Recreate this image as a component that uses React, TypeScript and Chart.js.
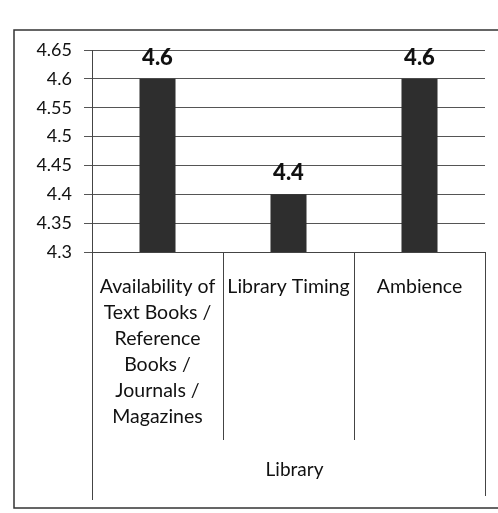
import React, { useEffect, useRef } from "react";
import { Chart, registerables } from "chart.js";

Chart.register(...registerables);

const categories: string[][] = [
  ["Availability of", "Text Books /", "Reference", "Books /", "Journals /", "Magazines"],
  ["Library Timing"],
  ["Ambience"],
];
const values: number[] = [4.6, 4.4, 4.6];
const valueLabels: string[] = ["4.6", "4.4", "4.6"];
const groupLabel = "Library";
const yTickLabels: string[] = ["4.3", "4.35", "4.4", "4.45", "4.5", "4.55", "4.6", "4.65"];
const yMin = 4.3;
const yMax = 4.65;
const yStep = 0.05;

const FONT = "Lato, 'Open Sans', sans-serif";

export default function App() {
  const ref = useRef<HTMLCanvasElement | null>(null);

  useEffect(() => {
    if (!ref.current) return;

    const framePlugin = {
      id: "frame",
      beforeDraw(chart: any) {
        const ctx = chart.ctx;
        ctx.save();
        ctx.fillStyle = "#ffffff";
        ctx.fillRect(0, 0, chart.width, chart.height);
        ctx.strokeStyle = "#333333";
        ctx.lineWidth = 1.5;
        ctx.strokeRect(14, 30, 492, 478);
        ctx.restore();
      },
    };

    const dividerPlugin = {
      id: "dividers",
      afterDraw(chart: any) {
        const ctx = chart.ctx;
        const area = chart.chartArea;
        const xs = chart.scales.x;
        ctx.save();
        ctx.strokeStyle = "#444444";
        ctx.lineWidth = 1;
        const n = categories.length;
        ctx.beginPath();
        ctx.moveTo(Math.round(area.left) + 0.5, area.bottom);
        ctx.lineTo(Math.round(area.left) + 0.5, 500);
        ctx.moveTo(Math.round(area.right) + 0.5, area.bottom);
        ctx.lineTo(Math.round(area.right) + 0.5, 496);
        for (let i = 0; i < n - 1; i++) {
          const x = (xs.getPixelForValue(i) + xs.getPixelForValue(i + 1)) / 2;
          ctx.moveTo(Math.round(x) + 0.5, area.bottom);
          ctx.lineTo(Math.round(x) + 0.5, 440);
        }
        ctx.stroke();
        ctx.fillStyle = "#111111";
        ctx.font = `19px ${FONT}`;
        ctx.textAlign = "center";
        ctx.textBaseline = "middle";
        ctx.fillText(groupLabel, (area.left + area.right) / 2 + 6, 470);
        ctx.restore();
      },
    };

    const valueLabelPlugin = {
      id: "valueLabels",
      afterDatasetsDraw(chart: any) {
        const ctx = chart.ctx;
        const meta = chart.getDatasetMeta(0);
        ctx.save();
        ctx.fillStyle = "#111111";
        ctx.font = `900 22px ${FONT}`;
        ctx.textAlign = "center";
        ctx.textBaseline = "bottom";
        meta.data.forEach((bar: any, i: number) => {
          ctx.fillText(valueLabels[i], bar.x, bar.y - 10);
        });
        ctx.restore();
      },
    };

    const chart = new Chart(ref.current, {
      type: "bar",
      data: {
        labels: categories,
        datasets: [
          {
            data: values,
            backgroundColor: "#2e2e2e",
            borderWidth: 0,
            barPercentage: 0.55,
            categoryPercentage: 0.5,
          },
        ],
      },
      options: {
        responsive: false,
        animation: false,
        layout: { padding: { left: 0, right: 13, top: 50, bottom: 0 } },
        plugins: {
          legend: { display: false },
          tooltip: { enabled: false },
          title: { display: false },
        },
        scales: {
          x: {
            grid: { display: false, drawTicks: false },
            border: { display: true, color: "#444444", width: 1 },
            ticks: {
              color: "#111111",
              font: { family: FONT, size: 19.5, lineHeight: 1.33 },
              padding: 22,
              maxRotation: 0,
              minRotation: 0,
              autoSkip: false,
            },
            afterFit(scale: any) {
              scale.height = 261;
            },
          },
          y: {
            min: yMin,
            max: yMax,
            ticks: {
              stepSize: yStep,
              color: "#111111",
              font: { family: FONT, size: 18 },
              padding: 12,
              callback: (_v: any, i: number) => yTickLabels[i],
            },
            grid: { color: "#555555", lineWidth: 1, tickLength: 8, drawTicks: true },
            border: { display: true, color: "#444444", width: 1 },
            afterFit(scale: any) {
              scale.width = 92;
            },
          },
        },
      },
      plugins: [framePlugin, dividerPlugin, valueLabelPlugin],
    });

    return () => chart.destroy();
  }, []);

  return (
    <div style={{ position: "absolute", left: 0, top: 0, width: 498, height: 513 }}>
      <canvas ref={ref} width={498} height={513} />
    </div>
  );
}
